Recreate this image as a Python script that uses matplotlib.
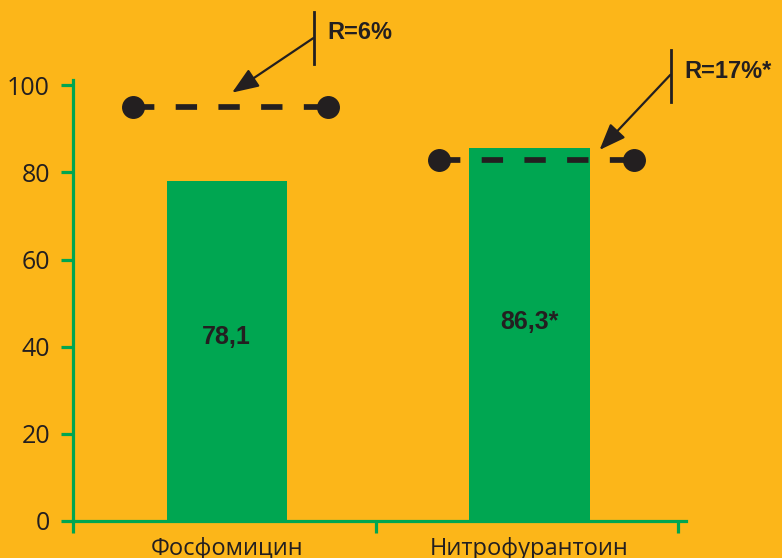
import matplotlib
matplotlib.use("Agg")
import matplotlib.pyplot as plt
import numpy as np

categories = ["Фосфомицин", "Нитрофурантоин"]
bar_values = [78.1, 85.7]
bar_labels = ["78,1", "86,3*"]
label_y = [42.3, 45.7]
ref_values = [95.1, 82.9]
r_labels = ["R=6%", "R=17%*"]
y_ticks = [0, 20, 40, 60, 80, 100]

BG = "#FCB619"
GREEN = "#00A651"
DARK = "#231F20"

plt.rcParams['font.family'] = ['Open Sans', 'DejaVu Sans']
BOLD_FAM = ['Liberation Sans', 'DejaVu Sans']

fig = plt.figure(figsize=(7.82, 5.58), dpi=100, facecolor=BG)
W, H = 782, 558
ax = fig.add_axes([73 / W, (H - 521) / H, (686 - 73) / W, (521 - 80) / H])
ax.set_facecolor(BG)

pos = np.array([0.0, 1.0]) + 0.008
ax.bar(pos, bar_values, width=0.397, color=GREEN, zorder=2)

for x, lab, ly in zip(pos, bar_labels, label_y):
    ax.text(x, ly, lab, ha="center", va="center", fontsize=18,
            fontweight="bold", family=BOLD_FAM, color=DARK, zorder=4)

lw = 4.1
dpos = pos + np.array([0.012, 0.022])
for x, v in zip(dpos, ref_values):
    ax.plot([x - 0.322, x + 0.322], [v, v], color=DARK, lw=lw,
            ls=(0, (3.75, 3.75)), dash_capstyle="butt", zorder=3,
            clip_on=False)
    ax.plot([x - 0.322, x + 0.322], [v, v], ls="none", marker="o",
            markersize=15.5, color=DARK, zorder=3, clip_on=False)

# annotations (vertical bar, arrow, text)
ann = [
    dict(bar_x=0.2957, bar_y=(104.9, 116.8), start=(0.2935, 110.8),
         tip=(0.0255, 98.3), text=(0.341, 112.2)),
    dict(bar_x=1.4745, bar_y=(96.2, 108.1), start=(1.4735, 102.4),
         tip=(1.2394, 85.15), text=(1.52, 103.1)),
]
for a, lab in zip(ann, r_labels):
    ax.plot([a["bar_x"], a["bar_x"]], a["bar_y"], color=DARK, lw=2.0,
            clip_on=False, zorder=5)
    ax.annotate("", xy=a["tip"], xytext=a["start"],
                arrowprops=dict(arrowstyle="-|>,head_length=0.9,head_width=0.35",
                                color=DARK, lw=1.6, shrinkA=0, shrinkB=0,
                                mutation_scale=18),
                annotation_clip=False, zorder=5)
    ax.text(a["text"][0], a["text"][1], lab, ha="left", va="center",
            fontsize=17, fontweight="bold", family=BOLD_FAM, color=DARK,
            clip_on=False)

ax.set_xlim(-0.5, 1.525)
ax.set_ylim(0, 101.2)

for s in ["top", "right"]:
    ax.spines[s].set_visible(False)
for s in ["left", "bottom"]:
    ax.spines[s].set_color(GREEN)
    ax.spines[s].set_linewidth(2.3)
    ax.spines[s].set_zorder(1)

ax.set_yticks(y_ticks)
ax.set_yticklabels([str(t) for t in y_ticks])
ax.tick_params(axis="y", length=8.6, width=2.3, color=GREEN, labelsize=18,
               labelcolor=DARK, pad=8)
ax.set_xticks([-0.5, 0.5, 1.5])
ax.set_xticklabels([])
ax.tick_params(axis="x", length=8.6, width=2.3, color=GREEN, direction="out")

for x, c in zip(pos, categories):
    ax.text(x, -3.6, c, ha="center", va="top", fontsize=17, color=DARK,
            clip_on=False)

fig.savefig("out.png", dpi=100, facecolor=BG)
